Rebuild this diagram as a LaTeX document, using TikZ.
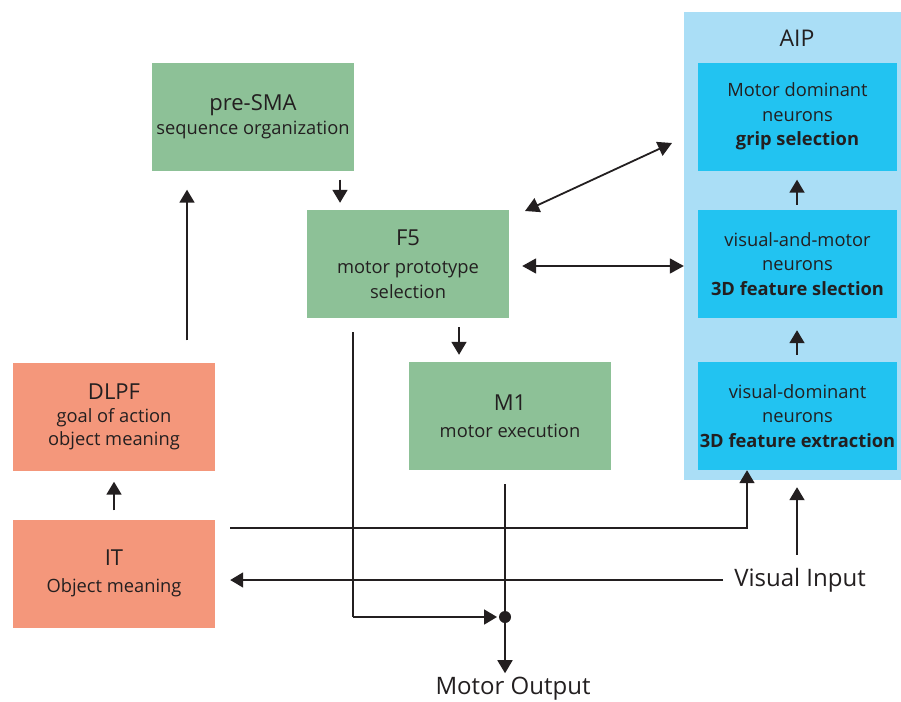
\documentclass[tikz,border=0pt]{standalone}
\usepackage{fontspec}
\setmainfont{Open Sans}
\usetikzlibrary{arrows.meta,calc}
\definecolor{areagreen}{HTML}{8DC197}
\definecolor{areasalmon}{HTML}{F4977B}
\definecolor{aipbg}{HTML}{AADEF6}
\definecolor{aipbox}{HTML}{22C3F1}
\definecolor{ink}{HTML}{231F20}
\tikzset{
  area/.style={minimum width=202pt, minimum height=108pt, inner sep=0pt,
    align=center, text=ink, font=\fontsize{18.3}{24.5}\selectfont},
  greenbox/.style={area, fill=areagreen},
  salmonbox/.style={area, fill=areasalmon},
  aipcell/.style={area, fill=aipbox, minimum width=199pt},
  conn/.style={draw=ink, line width=1.8pt},
  arr/.style={conn, -{Triangle[width=15pt,length=13pt]}},
  dbl/.style={conn, {Triangle[width=15pt,length=14pt]}-{Triangle[width=15pt,length=14pt]}},
  big/.style={font=\fontsize{24}{28}\selectfont},
}
\newcommand{\areaname}[1]{{\fontsize{22}{26}\selectfont #1}}
\begin{document}
\begin{tikzpicture}[x=1pt,y=-1pt]
\useasboundingbox (0,0) rectangle (901,701);
\fill[white] (0,0) rectangle (901,701);

% AIP panel
\node[fill=aipbg, minimum width=217pt, minimum height=468pt, inner sep=0pt] (aip) at (792.5,246) {};
\node[text=ink, font=\fontsize{23}{26}\selectfont] (aiplabel) at (797,38) {AIP};
\node[aipcell] (grip) at (797.5,116.5) {Motor dominant\\neurons\\\textbf{grip selection}};
\node[aipcell] (sel) at (797.5,264) {visual-and-motor\\neurons\\\textbf{3D feature slection}};
\node[aipcell] (ext) at (797.5,416) {visual-dominant\\neurons\\\textbf{3D feature extraction}};

% Frontal areas
\node[greenbox] (presma) at (253,116.5) {\areaname{pre-SMA}\\sequence organization};
\node[greenbox] (f5) at (408,264) {\areaname{F5}\\[4pt]motor prototype\\selection};
\node[greenbox] (m1) at (510,416) {\areaname{M1}\\[2pt]motor execution};
\node[salmonbox] (dlpf) at (114,416.5) {\areaname{DLPF}\\[-1pt]goal of action\\[-2pt]object meaning};
\node[salmonbox] (it) at (114,573.5) {\areaname{IT}\\[2pt]Object meaning};

% Free labels
\node[big, text=ink, inner sep=0pt] (vis) at (800,580) {Visual Input};
\node[big, text=ink, inner sep=0pt] (mout) at (513,689) {Motor Output};

% Column positions for the vertical connectors
\coordinate (cA) at (187,0);
\coordinate (cB) at (340,0);
\coordinate (cC) at (459,0);
\coordinate (cD) at (353,0);
\coordinate (cE) at (505,0);
\coordinate (cF) at (747,0);
\coordinate (cG) at (797,0);
\coordinate (jn) at (505,617);
\coordinate (itrow) at (0,528);
\coordinate (visrow) at (0,580);
\coordinate (aiprow) at (0,266);

% Arrows between areas
\draw[arr, shorten <=22pt, shorten >=19pt] (dlpf.north -| cA) -- (presma.south -| cA);
\draw[arr, shorten <=9pt, shorten >=11pt] (it.north) -- (dlpf.south);
\draw[arr, shorten <=9pt, shorten >=7pt] (presma.south -| cB) -- (f5.north -| cB);
\draw[arr, shorten <=9pt, shorten >=7pt] (f5.south -| cC) -- (m1.north -| cC);
\draw[arr, shorten <=5pt, shorten >=9pt] (sel.north -| cG) -- (grip.south -| cG);
\draw[arr, shorten <=7pt, shorten >=12pt] (ext.north -| cG) -- (sel.south -| cG);

% Reciprocal links with AIP
\draw[dbl, shorten <=13pt] (f5.east |- aiprow) -- (aip.west |- aiprow);
\coordinate (dg1) at (525,211);
\coordinate (dg2) at (672,143);
\draw[dbl] (dg1) -- (dg2);

% Visual input pathways
\draw[arr, shorten <=13pt, shorten >=7pt] (vis.north -| cG) -- (aip.south -| cG);
\draw[arr, shorten <=15pt] (it.east |- itrow) -| ([yshift=10pt]aip.south -| cF);
\draw[arr, shorten <=11pt, shorten >=15pt] (vis.west) -- (it.east |- visrow);

% Motor output pathways
\draw[conn, shorten <=14pt] (f5.south -| cD) -- (cD |- jn);
\draw[arr, shorten >=8pt] (cD |- jn) -- (jn);
\draw[arr, shorten <=14pt, shorten >=4pt] (m1.south -| cE) -- (mout.north -| cE);
\fill[ink] (jn) circle (6pt);
\end{tikzpicture}
\end{document}
